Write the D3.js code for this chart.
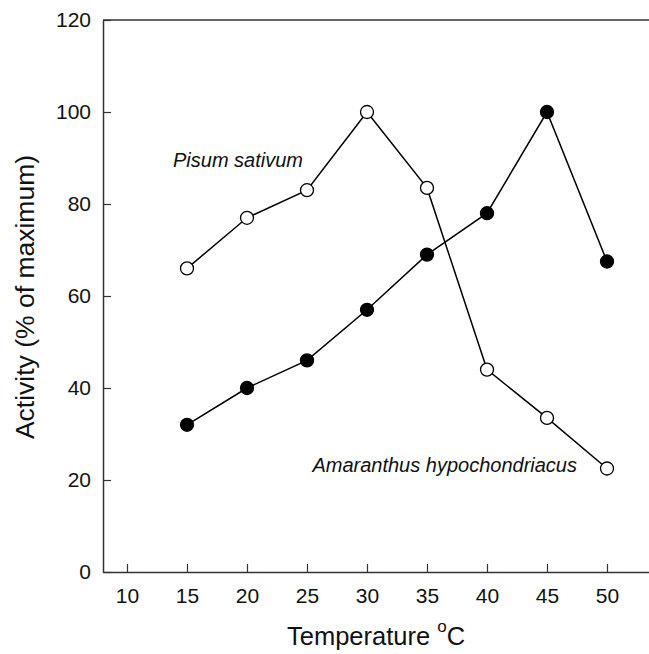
<!DOCTYPE html>
<html>
<head>
<meta charset="utf-8">
<script src="https://cdn.jsdelivr.net/npm/d3@7"></script>
<style>
  body { margin: 0; background: #fff; }
  svg { display: block; font-family: "Liberation Sans", Arial, sans-serif; }
</style>
</head>
<body>
<svg id="chart" width="649" height="654"></svg>
<script>
const WIDTH = 649;
const HEIGHT = 654;

// temperature (deg C)
const temps = [15, 20, 25, 30, 35, 40, 45, 50];
// Pisum sativum (open circles)
const pisum = [66, 77, 83, 100, 83.5, 44, 33.5, 22.5];
// Amaranthus hypochondriacus (filled circles)
const amaranthus = [32, 40, 46, 57, 69, 78, 100, 67.5];

const xTicks = [10, 15, 20, 25, 30, 35, 40, 45, 50];
const yTicks = [0, 20, 40, 60, 80, 100, 120];

const svg = d3.select('#chart');

const x = d3.scaleLinear().domain([8, 55]).range([103, 667]);
const y = d3.scaleLinear().domain([0, 120]).range([572, 20]);

// top frame line
svg.append('line')
  .attr('x1', x(8)).attr('x2', WIDTH)
  .attr('y1', y(120)).attr('y2', y(120))
  .attr('stroke', '#333').attr('stroke-width', 1.5);

const xAxis = svg.append('g')
  .attr('transform', `translate(0, ${y(0)})`)
  .call(d3.axisBottom(x).tickValues(xTicks).tickSizeInner(-8).tickSizeOuter(0).tickPadding(16));

const yAxis = svg.append('g')
  .attr('transform', `translate(${x(8)}, 0)`)
  .call(d3.axisLeft(y).tickValues(yTicks).tickSizeInner(-8).tickSizeOuter(0).tickPadding(12));

[xAxis, yAxis].forEach((g) => {
  g.select('.domain').attr('stroke', '#333').attr('stroke-width', 1.5);
  g.selectAll('.tick line').attr('stroke', '#333').attr('stroke-width', 1.2);
  g.selectAll('.tick text')
    .attr('fill', '#111')
    .style('font-family', '"Liberation Sans", Arial, sans-serif')
    .style('font-size', '21px');
});

// axis titles
const xTitle = svg.append('text')
  .attr('x', 287)
  .attr('y', 645)
  .attr('fill', '#111')
  .style('font-size', '25.5px');
xTitle.append('tspan').text('Temperature ');
xTitle.append('tspan').attr('dy', -13).style('font-size', '17px').text('o');
xTitle.append('tspan').attr('dy', 13).text('C');

svg.append('text')
  .attr('transform', 'rotate(-90)')
  .attr('x', -297)
  .attr('y', 34)
  .attr('text-anchor', 'middle')
  .attr('fill', '#111')
  .style('font-size', '26.5px')
  .text('Activity (% of maximum)');

// series
const series = [
  {name: 'Pisum sativum', values: pisum, fill: '#fff'},
  {name: 'Amaranthus hypochondriacus', values: amaranthus, fill: '#000'},
];

const line = d3.line()
  .x((d) => x(d[0]))
  .y((d) => y(d[1]));

series.forEach((s) => {
  const pts = temps.map((t, i) => [t, s.values[i]]);
  svg.append('path')
    .datum(pts)
    .attr('fill', 'none')
    .attr('stroke', '#000')
    .attr('stroke-width', 1.5)
    .attr('d', line);
});

series.forEach((s) => {
  const pts = temps.map((t, i) => [t, s.values[i]]);
  svg.append('g')
    .selectAll('circle')
    .data(pts)
    .join('circle')
    .attr('cx', (d) => x(d[0]))
    .attr('cy', (d) => y(d[1]))
    .attr('r', 6.5)
    .attr('fill', s.fill)
    .attr('stroke', '#000')
    .attr('stroke-width', 1.3);
});

// series labels
svg.append('text')
  .attr('x', 173)
  .attr('y', 167)
  .attr('fill', '#111')
  .style('font-size', '20px')
  .style('font-style', 'italic')
  .text('Pisum sativum');

svg.append('text')
  .attr('x', 577)
  .attr('y', 472)
  .attr('text-anchor', 'end')
  .attr('fill', '#111')
  .style('font-size', '20px')
  .style('font-style', 'italic')
  .text('Amaranthus hypochondriacus');
</script>
</body>
</html>
